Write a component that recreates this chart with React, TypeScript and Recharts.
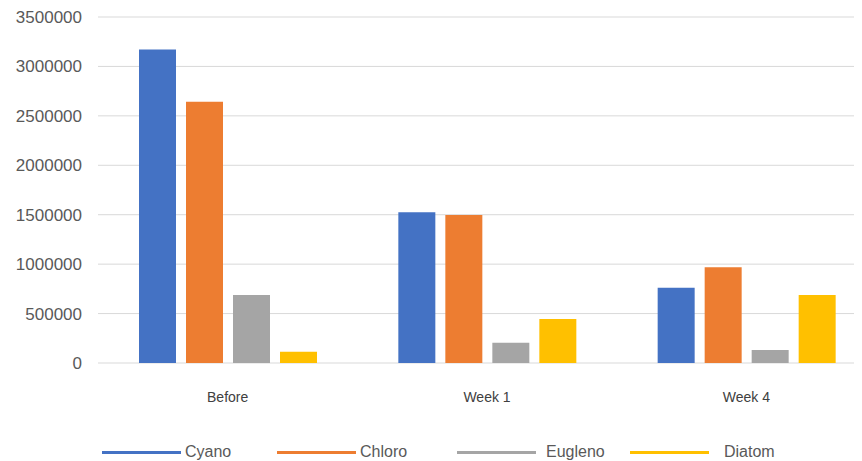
import { BarChart, Bar, XAxis, YAxis, CartesianGrid } from 'recharts'

const categories = ['Before', 'Week 1', 'Week 4']
const cyano = [3170000, 1525000, 762000]
const chloro = [2643000, 1497000, 968000]
const eugleno = [688000, 205000, 131000]
const diatom = [114000, 445000, 688000]
const yTicks = [0, 500000, 1000000, 1500000, 2000000, 2500000, 3000000, 3500000]

const series = [
  { key: 'cyano', name: 'Cyano', color: '#4472C4' },
  { key: 'chloro', name: 'Chloro', color: '#ED7D31' },
  { key: 'eugleno', name: 'Eugleno', color: '#A5A5A5' },
  { key: 'diatom', name: 'Diatom', color: '#FFC000' },
]

// legend item left edges (page is laid out like the scanned original)
const legendLeft = [94, 269, 449, 622]
const legendGap = [4, 4, 10, 15]

const chartData = categories.map((label, i) => ({
  label,
  cyano: cyano[i],
  chloro: chloro[i],
  eugleno: eugleno[i],
  diatom: diatom[i],
}))

const font = '"Liberation Sans", Arial, sans-serif'

export default function App() {
  return (
    <div style={{ position: 'relative', width: 854, height: 453, overflow: 'hidden', fontFamily: font }}>
      <BarChart
        width={870}
        height={400}
        data={chartData}
        margin={{ top: 9, right: 2, left: 0, bottom: 5 }}
        barGap={10}
        barSize={37}
      >
        <CartesianGrid vertical={false} stroke="#d9d9d9" strokeWidth={1} />
        <XAxis
          dataKey="label"
          axisLine={false}
          tickLine={false}
          tickMargin={23}
          height={40}
          tick={{ fontSize: 14, fill: '#404040', fontFamily: font }}
        />
        <YAxis
          domain={[0, 3500000]}
          ticks={yTicks}
          axisLine={false}
          tickLine={false}
          tickMargin={10}
          width={90}
          interval={0}
          tick={{ fontSize: 17, fill: '#595959', fontFamily: font }}
        />
        {series.map(s => (
          <Bar key={s.key} dataKey={s.key} name={s.name} fill={s.color} isAnimationActive={false} />
        ))}
      </BarChart>
      {series.map((s, i) => (
        <div
          key={s.key}
          style={{
            position: 'absolute',
            left: legendLeft[i],
            top: 433,
            height: 22,
            display: 'flex',
            alignItems: 'center',
            fontSize: 16,
            color: '#595959',
          }}
        >
          <div style={{ width: 79, height: 3, background: s.color, marginRight: legendGap[i] }} />
          <span>{s.name}</span>
        </div>
      ))}
    </div>
  )
}
